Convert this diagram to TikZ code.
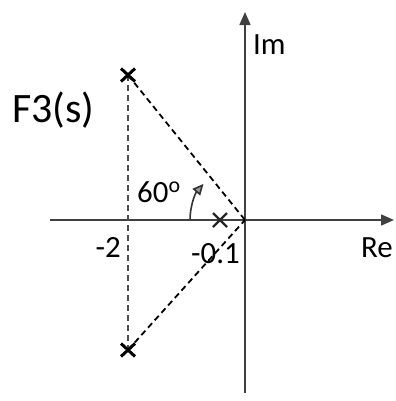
\documentclass[tikz,border=0pt]{standalone}
\usepackage{fontspec}
\setmainfont{Carlito}
\usetikzlibrary{arrows.meta,calc}
\begin{document}
\begin{tikzpicture}[x=1bp,y=-1bp,
  axis/.style={draw=black!75,line width=1.6bp,-{Triangle[length=13bp,width=11bp]}},
  dsh/.style={draw=black,line width=1.8bp,dash pattern=on 6bp off 4bp},
  pole/.style={draw=black,line width=3bp},
  lbl/.style={font=\fontsize{31}{31}\selectfont,inner sep=0pt}]
\useasboundingbox (0,0) rectangle (396,401);
\coordinate (O) at (245,220);
\coordinate (P1) at (128,75);
\coordinate (P2) at (128,350);
\coordinate (P3) at (220,220);
\coordinate (xL) at (50,220);
\coordinate (xR) at (394,220);
\coordinate (yB) at (245,393);
\coordinate (yT) at (245,12);
\draw[axis] (xL) -- (xR);
\draw[axis] (yB) -- (yT);
\draw[dsh] (P1) -- (O);
\draw[dsh] (P2) -- (O);
\draw[dsh,draw=black!70] (P1) -- (P2);
\foreach \p in {P1,P2}{
  \draw[pole] ($(\p)+(-7,-6.5)$) -- ($(\p)+(7,6.5)$);
  \draw[pole] ($(\p)+(-7,6.5)$) -- ($(\p)+(7,-6.5)$);
}
\draw[black!85,line width=2.2bp] ($(P3)+(-7,-7)$) -- ($(P3)+(7,7)$);
\draw[black!85,line width=2.2bp] ($(P3)+(-7,7)$) -- ($(P3)+(7,-7)$);
\draw[black!80,line width=1.6bp,-{Triangle[length=11bp,width=10bp,open,fill=black!40]}] (190,220) arc[start angle=180,end angle=221,radius=55];
\node[lbl,anchor=base west] (im) at (253,54) {Im};
\node[lbl,anchor=base east] (re) at (393,257) {Re};
\node[lbl,anchor=base west] (f3) at (12,122) {\fontsize{42}{42}\selectfont F3(s)};
\node[lbl,anchor=base west] (ang) at (137,202) {60\raisebox{0.3em}{\fontsize{22}{22}\selectfont o}};
\node[lbl,anchor=base east] (m2) at (121,257) {-2};
\node[lbl,anchor=base west] (m01) at (191,263) {-0.1};
\end{tikzpicture}
\end{document}
